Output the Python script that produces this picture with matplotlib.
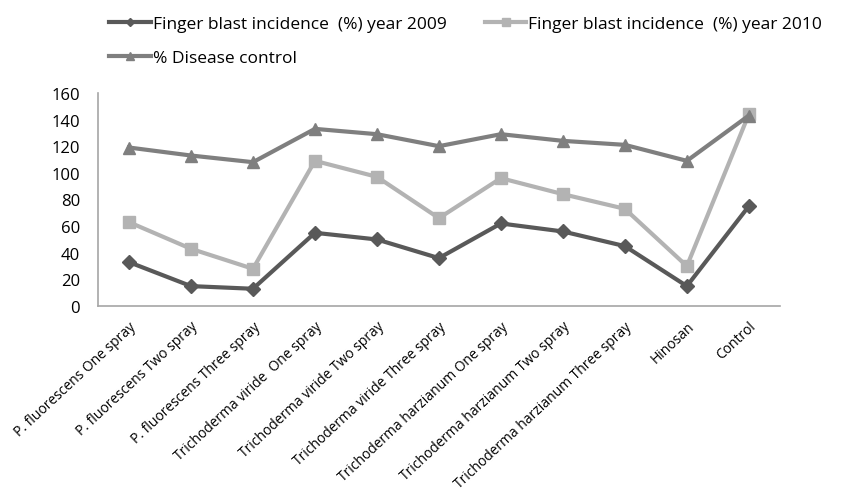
"""Finger blast incidence and disease control across treatments."""

import matplotlib.pyplot as plt

treatments = [
    "P. fluorescens One spray",
    "P. fluorescens Two spray",
    "P. fluorescens Three spray",
    "Trichoderma viride  One spray",
    "Trichoderma viride Two spray",
    "Trichoderma viride Three spray",
    "Trichoderma harzianum One spray",
    "Trichoderma harzianum Two spray",
    "Trichoderma harzianum Three spray",
    "Hinosan",
    "Control",
]
incidence_2009 = [33, 15, 13, 55, 50, 36, 62, 56, 45, 15, 75]
incidence_2010 = [63, 43, 28, 109, 97, 66, 96, 84, 73, 30, 144]
disease_control = [119, 113, 108, 133, 129, 120, 129, 124, 121, 109, 143]
y_ticks = [0, 20, 40, 60, 80, 100, 120, 140, 160]

plt.rcParams["font.family"] = ["Open Sans", "DejaVu Sans"]

fig = plt.figure(figsize=(8.46, 4.89), dpi=100)
ax = fig.add_axes([0.1158, 0.372, 0.806, 0.436])

x = list(range(len(treatments)))
h1, = ax.plot(x, incidence_2009, color="#595959", lw=3, marker="D", ms=7,
              label="Finger blast incidence  (%) year 2009")
h2, = ax.plot(x, incidence_2010, color="#b3b3b3", lw=3, marker="s", ms=9,
              label="Finger blast incidence  (%) year 2010")
h3, = ax.plot(x, disease_control, color="#7f7f7f", lw=3, marker="^", ms=9,
              label="% Disease control")

ax.set_xlim(-0.5, len(treatments) - 0.5)
ax.set_ylim(0, 160)
ax.set_yticks(y_ticks)
ax.tick_params(axis="y", length=0, labelsize=12, pad=13)
ax.tick_params(axis="x", length=0, pad=9)
ax.set_xticks(x)
ax.set_xticklabels(treatments, rotation=43, ha="right", rotation_mode="anchor",
                   fontsize=10)

for side in ("top", "right"):
    ax.spines[side].set_visible(False)
for side in ("left", "bottom"):
    ax.spines[side].set_color("#a6a6a6")
    ax.spines[side].set_linewidth(1.2)

# column-major fill: 2009 and disease control in the first column
fig.legend(handles=[h1, h3, h2], loc="upper left", bbox_to_anchor=(0.115, 0.99),
           ncol=2, frameon=False, fontsize=12.5, handlelength=2.4,
           handletextpad=0.1, columnspacing=2.2, labelspacing=1.0,
           markerscale=0.6, borderaxespad=0.3)

fig.savefig("out.png", dpi=100)
